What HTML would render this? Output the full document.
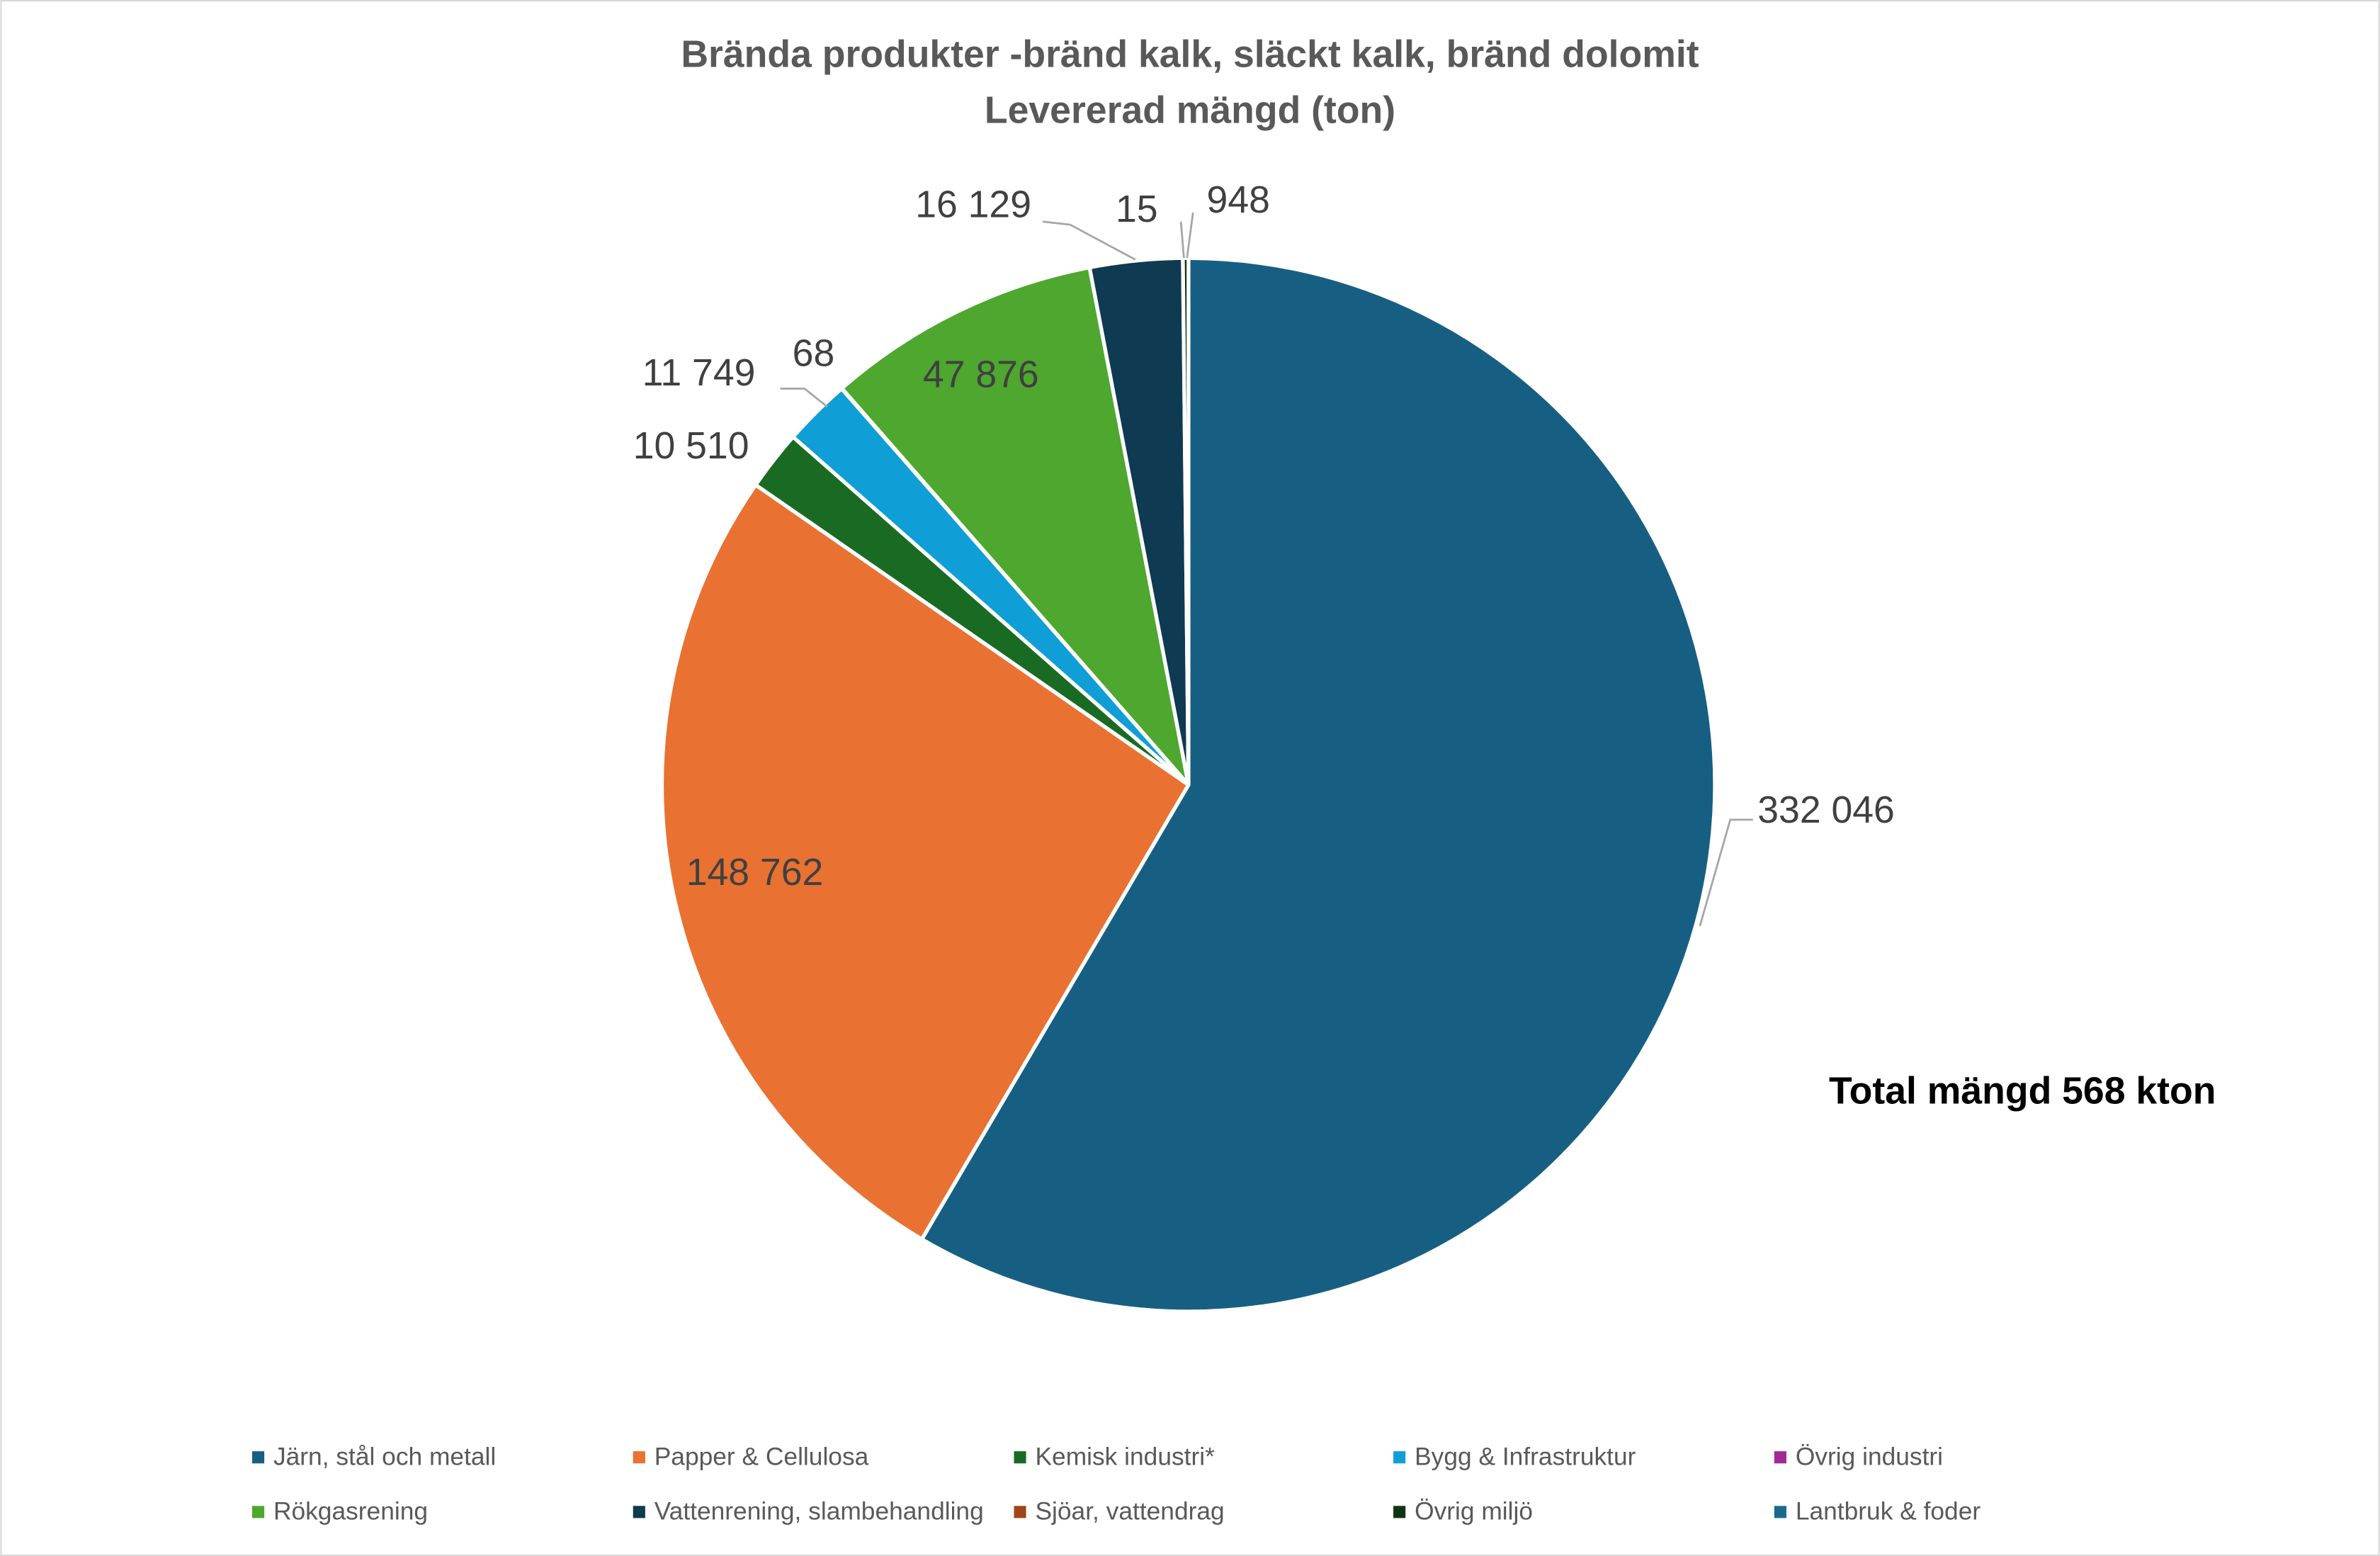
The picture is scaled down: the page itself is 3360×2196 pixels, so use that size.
<!DOCTYPE html>
<html><head><meta charset="utf-8"><style>html,body{margin:0;padding:0;background:#fff}svg{display:block}</style></head><body>
<svg width="3360" height="2196" viewBox="0 0 1568 1025" xmlns="http://www.w3.org/2000/svg" font-family="Liberation Sans, Arial, sans-serif">
<rect x="0.5" y="0.5" width="1567" height="1024" fill="#fff" stroke="#d9d9d9" stroke-width="1"/>
<text x="784" y="44" text-anchor="middle" font-size="25" font-weight="bold" fill="#595959">Brända produkter -bränd kalk, släckt kalk, bränd dolomit</text>
<text x="784" y="81" text-anchor="middle" font-size="25" font-weight="bold" fill="#595959">Levererad mängd (ton)</text>
<g stroke="#fff" stroke-width="2.5" stroke-linejoin="round">
<path d="M783,517 L783,170 A347,347 0 1,1 607.3,816.3 Z" fill="#175f82"/>
<path d="M783,517 L607.3,816.3 A347,347 0 0,1 497.8,319.4 Z" fill="#e97132"/>
<path d="M783,517 L497.8,319.4 A347,347 0 0,1 522.4,287.8 Z" fill="#196b24"/>
<path d="M783,517 L522.4,287.8 A347,347 0 0,1 554.4,256.0 Z" fill="#0f9ed5"/>
<path d="M783,517 L554.4,256.0 A347,347 0 0,1 554.6,255.8 Z" fill="#a02b93"/>
<path d="M783,517 L554.6,255.8 A347,347 0 0,1 717.8,176.2 Z" fill="#4ea72e"/>
<path d="M783,517 L717.8,176.2 A347,347 0 0,1 779.3,170.0 Z" fill="#0e3a52"/>
<path d="M783,517 L779.3,170.0 A347,347 0 0,1 783,170 Z" fill="#0d3512"/>
</g>
<g stroke="#a6a6a6" stroke-width="1.3" fill="none">
<polyline points="1120,610 1140,540 1155,540"/>
<polyline points="687,146 705,148 748,171"/>
<polyline points="778,146 780,170"/>
<polyline points="786,140 782,170"/>
<polyline points="514,256 530,256 545,268"/>
</g>
<g font-size="25" fill="#404040">
<text x="1158" y="542">332 046</text>
<text x="452" y="583">148 762</text>
<text x="608" y="255">47 876</text>
<text x="417" y="302">10 510</text>
<text x="423" y="254">11 749</text>
<text x="522" y="241">68</text>
<text x="603" y="143">16 129</text>
<text x="735" y="146">15</text>
<text x="795" y="140">948</text>
</g>
<text x="1205" y="727" font-size="25" font-weight="bold" fill="#000">Total mängd 568 kton</text>
<g font-size="16.5" fill="#595959">
<rect x="166" y="956" width="8" height="8" fill="#175f82"/><text x="180" y="965">Järn, stål och metall</text>
<rect x="417" y="956" width="8" height="8" fill="#e97132"/><text x="431" y="965">Papper &amp; Cellulosa</text>
<rect x="668" y="956" width="8" height="8" fill="#196b24"/><text x="682" y="965">Kemisk industri*</text>
<rect x="918" y="956" width="8" height="8" fill="#0f9ed5"/><text x="932" y="965">Bygg &amp; Infrastruktur</text>
<rect x="1169" y="956" width="8" height="8" fill="#a02b93"/><text x="1183" y="965">Övrig industri</text>
<rect x="166" y="992" width="8" height="8" fill="#4ea72e"/><text x="180" y="1001">Rökgasrening</text>
<rect x="417" y="992" width="8" height="8" fill="#0e3a52"/><text x="431" y="1001">Vattenrening, slambehandling</text>
<rect x="668" y="992" width="8" height="8" fill="#a0461d"/><text x="682" y="1001">Sjöar, vattendrag</text>
<rect x="918" y="992" width="8" height="8" fill="#0d3512"/><text x="932" y="1001">Övrig miljö</text>
<rect x="1169" y="992" width="8" height="8" fill="#1a6a8c"/><text x="1183" y="1001">Lantbruk &amp; foder</text>
</g>
</svg>
</body></html>
